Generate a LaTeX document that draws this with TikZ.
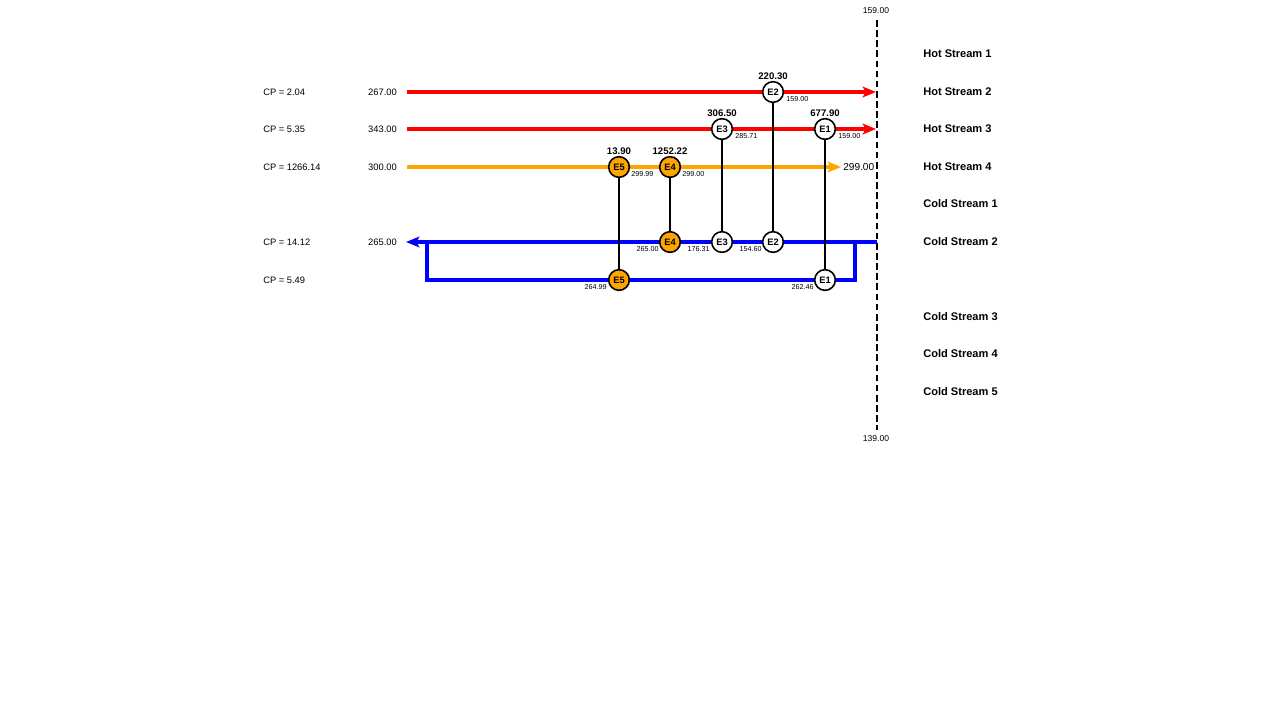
\documentclass[tikz,border=0pt]{standalone}
\usepackage{fontspec}
\setmainfont{Liberation Sans}
\usetikzlibrary{arrows.meta}
\definecolor{hotred}{RGB}{255,0,0}
\definecolor{hotorange}{RGB}{255,165,0}
\definecolor{coldblue}{RGB}{0,0,255}
\tikzset{
  stream/.style={line width=2.3pt},
  hotr/.style={stream, draw=hotred, -{Stealth[length=10pt,width=8pt,inset=2.2pt]}},
  hoto/.style={stream, draw=hotorange, -{Stealth[length=10pt,width=8pt,inset=2.2pt]}},
  coldb/.style={stream, draw=coldblue, -{Stealth[length=10pt,width=8pt,inset=2.2pt]}},
  coldline/.style={stream, draw=coldblue},
  hx/.style={circle, draw=black, line width=1.2pt, fill=white, minimum size=15.5pt, inner sep=0pt, font=\bfseries\fontsize{7}{8}\selectfont},
  hxo/.style={hx, fill=hotorange},
  link/.style={draw=black, line width=1.5pt},
  cplab/.style={anchor=west, font=\fontsize{7}{8}\selectfont, inner sep=0pt},
  tin/.style={anchor=east, font=\fontsize{7}{8}\selectfont, inner sep=0pt},
  duty/.style={anchor=south, font=\bfseries\fontsize{7.2}{8}\selectfont, inner sep=1pt},
  tsm/.style={font=\fontsize{5.4}{6}\selectfont, inner sep=0pt},
  slab/.style={anchor=west, font=\bfseries\fontsize{8.3}{9}\selectfont, inner sep=0pt},
  pinch/.style={line width=1.9pt, dash pattern=on 5pt off 2.6pt},
}
\begin{document}
\begin{tikzpicture}[x=0.75pt,y=-0.75pt]
\useasboundingbox (0,0) rectangle (1280,703);

% pinch line
\coordinate (dtop) at (877,20);
\coordinate (dbot) at (877,430);
\draw[pinch] (dtop) -- (dbot);
\node[tsm, font=\fontsize{6.4}{7}\selectfont] (ptop) at (876,11) {159.00};
\node[tsm, font=\fontsize{6.4}{7}\selectfont] (pbot) at (876,439) {139.00};

% stream labels
\node[slab] (hs1) at (923,54) {Hot Stream 1};
\node[slab] (hs2) at (923,92) {Hot Stream 2};
\node[slab] (hs3) at (923,129) {Hot Stream 3};
\node[slab] (hs4) at (923,167) {Hot Stream 4};
\node[slab] (cs1) at (923,204) {Cold Stream 1};
\node[slab] (cs2) at (923,242) {Cold Stream 2};
\node[slab] (cs3) at (923,317) {Cold Stream 3};
\node[slab] (cs4) at (923,354) {Cold Stream 4};
\node[slab] (cs5) at (923,392) {Cold Stream 5};

% CP labels
\node[cplab] (cp2) at (263,92) {CP = 2.04};
\node[cplab] (cp3) at (263,129) {CP = 5.35};
\node[cplab] (cp4) at (263,167) {CP = 1266.14};
\node[cplab] (cpc2) at (263,242) {CP = 14.12};
\node[cplab] (cpc2b) at (263,280) {CP = 5.49};

% inlet temperatures
\node[tin] (t2) at (397,92) {267.00};
\node[tin] (t3) at (397,129) {343.00};
\node[tin] (t4) at (397,167) {300.00};
\node[tin] (tc2) at (397,242) {265.00};

% stream lines
\coordinate (h2s) at (407,92);  \coordinate (h2e) at (876,92);
\coordinate (h3s) at (407,129); \coordinate (h3e) at (876,129);
\coordinate (h4s) at (407,167); \coordinate (h4e) at (841,167);
\coordinate (c2s) at (877,242); \coordinate (c2e) at (406,242);
\coordinate (b1) at (855,242); \coordinate (b2) at (855,280);
\coordinate (b3) at (427,280); \coordinate (b4) at (427,242);
\draw[hotr] (h2s) -- (h2e);
\draw[hotr] (h3s) -- (h3e);
\draw[hoto] (h4s) -- (h4e);
\node[anchor=west, font=\fontsize{7.6}{8}\selectfont, inner sep=0pt] (t4out) at (843,167) {299.00};
\draw[coldb] (c2s) -- (c2e);
\draw[coldline, line join=miter] (b1) -- (b2) -- (b3) -- (b4);

% exchangers
\node[hx] (h2e2) at (773,92) {E2};
\node[hx] (h3e3) at (722,129) {E3};
\node[hx] (h3e1) at (825,129) {E1};
\node[hxo] (h4e5) at (619,167) {E5};
\node[hxo] (h4e4) at (670,167) {E4};
\node[hxo] (c2e4) at (670,242) {E4};
\node[hx] (c2e3) at (722,242) {E3};
\node[hx] (c2e2) at (773,242) {E2};
\node[hxo] (bre5) at (619,280) {E5};
\node[hx] (bre1) at (825,280) {E1};

% links
\draw[link] (h2e2) -- (c2e2);
\draw[link] (h3e3) -- (c2e3);
\draw[link] (h3e1) -- (bre1);
\draw[link] (h4e5) -- (bre5);
\draw[link] (h4e4) -- (c2e4);

% duties
\node[duty] (d2) at (773,81) {220.30};
\node[duty] (d3) at (722,118) {306.50};
\node[duty] (d1) at (825,118) {677.90};
\node[duty] (d5) at (619,156) {13.90};
\node[duty] (d4) at (670,156) {1252.22};

% outlet temperatures after exchangers
\node[tsm, anchor=west] (o2) at (786,99) {159.00};
\node[tsm, anchor=west] (o3) at (735,136) {285.71};
\node[tsm, anchor=west] (o1) at (838,136) {159.00};
\node[tsm, anchor=west] (o5) at (631,174) {299.99};
\node[tsm, anchor=west] (o4) at (682,174) {299.00};
\node[tsm, anchor=east] (oc4) at (659,249) {265.00};
\node[tsm, anchor=east] (oc3) at (710,249) {176.31};
\node[tsm, anchor=east] (oc2) at (762,249) {154.60};
\node[tsm, anchor=east] (ob5) at (607,287) {264.99};
\node[tsm, anchor=east] (ob1) at (814,287) {262.46};
\end{tikzpicture}
\end{document}
